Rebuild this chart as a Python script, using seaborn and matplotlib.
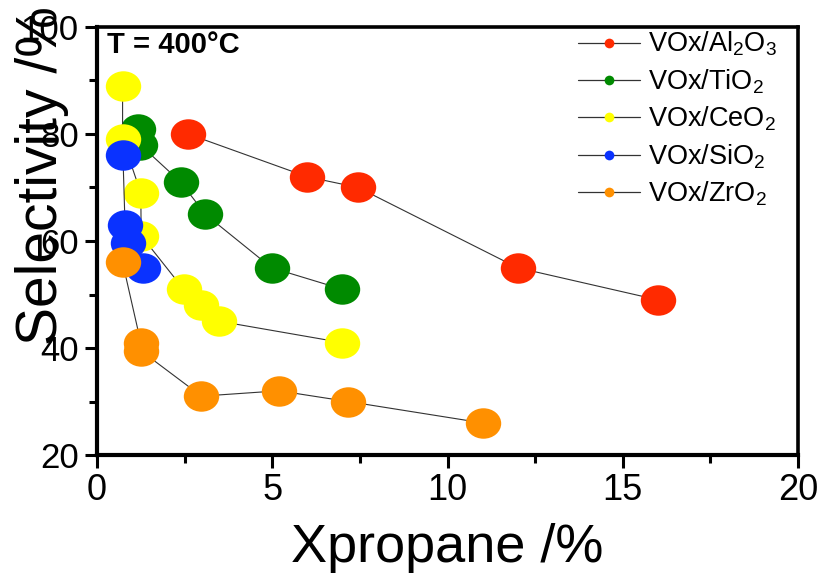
import matplotlib
matplotlib.use("Agg")
import matplotlib.pyplot as plt
from matplotlib import font_manager
from matplotlib.path import Path
from matplotlib.transforms import Affine2D
from matplotlib.lines import Line2D
from matplotlib.ticker import MultipleLocator
import seaborn as sns
import pandas as pd

# ---------------- data ----------------
series_names = ["VOx/Al$_2$O$_3$", "VOx/TiO$_2$", "VOx/CeO$_2$", "VOx/SiO$_2$", "VOx/ZrO$_2$"]
series_colors = ["#FF2A00", "#008A00", "#FFFF00", "#0A32FF", "#FF9000"]

al2o3_x = [2.6, 6.0, 7.45, 12.0, 16.0]
al2o3_y = [80.0, 72.0, 70.0, 55.0, 49.0]

tio2_x = [1.18, 1.23, 2.39, 3.09, 4.98, 6.99]
tio2_y = [81.0, 78.0, 71.0, 65.0, 55.0, 51.0]

ceo2_x = [0.73, 0.73, 1.25, 1.26, 2.47, 2.98, 3.49, 7.0]
ceo2_y = [89.0, 79.0, 69.0, 61.0, 51.0, 48.0, 45.0, 41.0]

sio2_x = [0.74, 0.80, 0.89, 1.30]
sio2_y = [76.0, 63.0, 59.7, 55.0]

zro2_x = [0.73, 1.25, 1.25, 2.98, 5.19, 7.16, 11.0]
zro2_y = [56.0, 41.0, 39.5, 31.0, 32.0, 30.0, 26.0]

xs = [al2o3_x, tio2_x, ceo2_x, sio2_x, zro2_x]
ys = [al2o3_y, tio2_y, ceo2_y, sio2_y, zro2_y]

x_ticks = [0, 5, 10, 15, 20]
y_ticks = [20, 40, 60, 80, 100]

# ---------------- style ----------------
sns.set_theme(style="white")
avail = {f.name for f in font_manager.fontManager.ttflist}
base_font = "Liberation Sans" if "Liberation Sans" in avail else "DejaVu Sans"
plt.rcParams["font.family"] = [base_font, "DejaVu Sans"]
plt.rcParams["mathtext.fontset"] = "custom"
plt.rcParams["mathtext.rm"] = base_font
plt.rcParams["mathtext.it"] = base_font
for key in ["text.color", "axes.labelcolor", "xtick.color", "ytick.color", "axes.edgecolor"]:
    plt.rcParams[key] = "black"

fig = plt.figure(figsize=(8.27, 5.75), dpi=100)
ax = fig.add_axes([97 / 827, 1 - 455 / 575, (798 - 97) / 827, (455 - 27) / 575])

ellipse = Path.unit_circle().transformed(Affine2D().scale(1.0, 0.86))

for name, col, x, y in zip(series_names, series_colors, xs, ys):
    df = pd.DataFrame({"x": x, "y": y})
    sns.lineplot(data=df, x="x", y="y", ax=ax, sort=False, estimator=None,
                 color="#333333", linewidth=0.8, marker=ellipse, markersize=25.5,
                 markerfacecolor=col, markeredgewidth=0, legend=False)

ax.set_xlim(0, 20)
ax.set_ylim(20, 100)
ax.set_xticks(x_ticks)
ax.set_yticks(y_ticks)
ax.xaxis.set_minor_locator(MultipleLocator(2.5))
ax.yaxis.set_minor_locator(MultipleLocator(10))
ax.set_xticklabels([str(v) for v in x_ticks], fontsize=26)
ax.set_yticklabels([str(v) for v in y_ticks], fontsize=25)
ax.tick_params(axis="both", which="major", direction="out", length=9, width=2.2,
               color="black", labelcolor="black", pad=4,
               bottom=True, left=True, top=False, right=False)
ax.tick_params(axis="both", which="minor", direction="out", length=5.5, width=2.2,
               color="black", bottom=True, left=True, top=False, right=False)
for side, sp in ax.spines.items():
    sp.set_visible(True)
    sp.set_color("black")
    sp.set_linewidth(3.0 if side in ("left", "bottom") else 2.6)

ax.set_xlabel("")
ax.set_ylabel("")
fig.text(447 / 827, 1 - 548 / 575, "Xpropane /%", fontsize=39, color="black",
         ha="center", va="center")
fig.text(42 / 827, 1 - 176 / 575, "Selectivity /%", fontsize=41, color="black",
         rotation=90, ha="center", va="center")

fig.text(107 / 827, 1 - 31 / 575, "T = 400°C", fontsize=21, fontweight="bold",
         color="black", ha="left", va="top")

handles = [Line2D([0], [0], color="#333333", linewidth=0.9, marker="o", markersize=7,
                  markerfacecolor=c, markeredgewidth=0) for c in series_colors]
leg = ax.legend(handles, series_names, loc="upper left",
                bbox_to_anchor=(578 / 827, 1 - 30 / 575), bbox_transform=fig.transFigure,
                frameon=False, fontsize=19.5, handlelength=2.3, handletextpad=0.3,
                labelspacing=0.33, borderaxespad=0, borderpad=0)
for t in leg.get_texts():
    t.set_color("black")

fig.savefig("out.png", dpi=100)
